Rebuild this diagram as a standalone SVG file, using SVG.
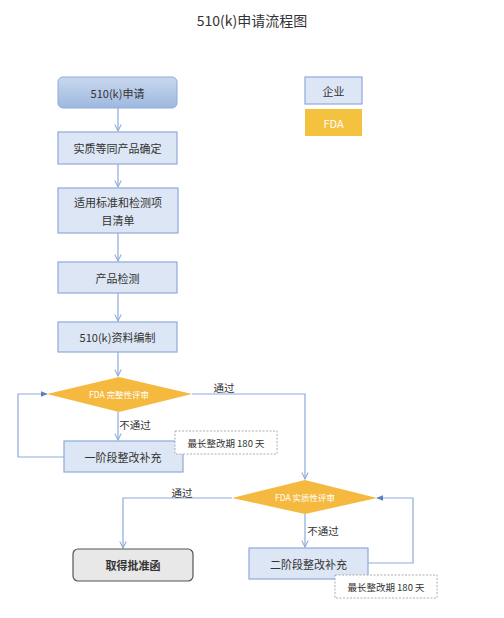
<svg xmlns="http://www.w3.org/2000/svg" width="504" height="618" viewBox="0 0 504 618">
<defs>
<linearGradient id="g1" x1="0" y1="0" x2="0" y2="1">
<stop offset="0" stop-color="#c9d8ee"/>
<stop offset="1" stop-color="#9db8df"/>
</linearGradient>
<marker id="v" viewBox="0 0 10 10" refX="9" refY="5" markerWidth="8" markerHeight="8" orient="auto" markerUnits="userSpaceOnUse">
<path d="M1,1 L9,5 L1,9" fill="none" stroke="#8eaadb" stroke-width="1.3"/>
</marker>
<marker id="t" viewBox="0 0 10 10" refX="9" refY="5" markerWidth="7" markerHeight="7" orient="auto" markerUnits="userSpaceOnUse">
<path d="M0,1 L10,5 L0,9 Z" fill="#5b7fc0"/>
</marker>
</defs>
<style>
text{font-family:"Noto Sans CJK SC","Liberation Sans",sans-serif;font-size:11px;fill:#333;text-anchor:middle;dominant-baseline:central}
.box{fill:#dce6f4;stroke:#8eaadb;stroke-width:1.2}
.dia{fill:#f5b940}
.dt{fill:#fff;font-size:8.5px}
.note{fill:#fff;stroke:#999;stroke-width:0.8;stroke-dasharray:2,1.5}
.nt{font-size:9.5px}
.c{fill:none;stroke:#8eaadb;stroke-width:1.2}
.lbl{font-size:10.5px}
</style>
<rect width="504" height="618" fill="#fff"/>
<text x="252" y="20" style="font-size:14px">510(k)申请流程图</text>

<g id="connectors">
<line class="c" x1="118" y1="108" x2="118" y2="131" marker-end="url(#v)"/>
<line class="c" x1="118" y1="164" x2="118" y2="187" marker-end="url(#v)"/>
<line class="c" x1="118" y1="233" x2="118" y2="261" marker-end="url(#v)"/>
<line class="c" x1="118" y1="293" x2="118" y2="321" marker-end="url(#v)"/>
<line class="c" x1="118" y1="352" x2="118" y2="376" marker-end="url(#v)"/>
<line class="c" x1="118" y1="412" x2="118" y2="440" marker-end="url(#v)"/>
<polyline class="c" points="64,457 18,457 18,394 47,394" marker-end="url(#t)"/>
<polyline class="c" points="192,394 305,394 305,479" marker-end="url(#v)"/>
<line class="c" x1="305" y1="514" x2="305" y2="547" marker-end="url(#v)"/>
<polyline class="c" points="368,563 413,563 413,498 377,498" marker-end="url(#t)"/>
<polyline class="c" points="232,498 123,498 123,548" marker-end="url(#v)"/>
<text class="lbl" x="224" y="387">通过</text>
<text class="lbl" x="135" y="424">不通过</text>
<text class="lbl" x="182" y="492">通过</text>
<text class="lbl" x="323" y="530">不通过</text>
</g>

<g id="n1">
<rect x="58" y="77" width="119" height="31" rx="5" fill="url(#g1)" stroke="#8eaadb" stroke-width="1"/>
<text x="117.5" y="92.5">510(k)申请</text>
</g>
<g id="n2">
<rect class="box" x="58" y="132" width="119" height="32"/>
<text x="117.5" y="148">实质等同产品确定</text>
</g>
<g id="n3">
<rect class="box" x="58" y="188" width="120" height="45"/>
<text x="118" y="202">适用标准和检测项</text>
<text x="118" y="220">目清单</text>
</g>
<g id="n4">
<rect class="box" x="58" y="262" width="119" height="31"/>
<text x="117.5" y="277.5">产品检测</text>
</g>
<g id="n5">
<rect class="box" x="58" y="322" width="119" height="30"/>
<text x="117.5" y="337">510(k)资料编制</text>
</g>
<g id="d1">
<polygon class="dia" points="47,394 119,377 192,394 119,412"/>
<text class="dt" x="119" y="394">FDA 完整性评审</text>
</g>
<g id="n6">
<rect class="box" x="64" y="441" width="119" height="31"/>
<text x="123" y="456.5">一阶段整改补充</text>
</g>
<g id="note1">
<rect class="note" x="175" y="431" width="102" height="23"/>
<text class="nt" x="226" y="442.5">最长整改期 180 天</text>
</g>
<g id="d2">
<polygon class="dia" points="232,498 305,480 377,498 305,514"/>
<text class="dt" x="305" y="497">FDA 实质性评审</text>
</g>
<g id="n7">
<rect class="box" x="249" y="548" width="119" height="31"/>
<text x="308.5" y="563.5">二阶段整改补充</text>
</g>
<g id="note2">
<rect class="note" x="335" y="575" width="102" height="23"/>
<text class="nt" x="386" y="586.5">最长整改期 180 天</text>
</g>
<g id="n8">
<rect x="73" y="549" width="120" height="32" rx="5" fill="#e8e8e8" stroke="#555" stroke-width="1.2"/>
<text x="133" y="565" style="font-weight:bold">取得批准函</text>
</g>
<g id="legend-qiye">
<rect class="box" x="305" y="77" width="57" height="27"/>
<text x="333.5" y="90.5">企业</text>
</g>
<g id="legend-fda">
<rect x="305" y="109" width="57" height="27" fill="#f5c240"/>
<text x="333.5" y="122.5" style="fill:#fff">FDA</text>
</g>
</svg>
